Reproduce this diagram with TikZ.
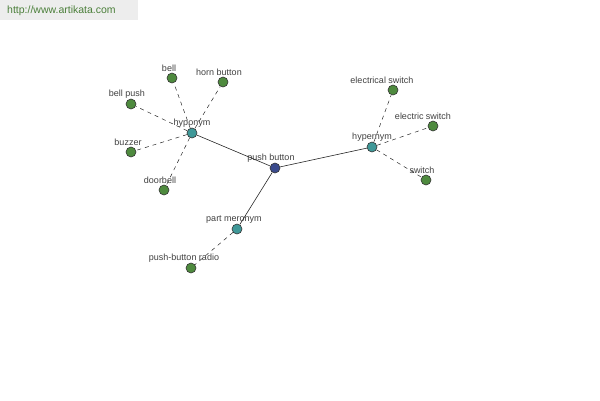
\documentclass[tikz,border=0pt]{standalone}
\usepackage{fontspec}
\setmainfont{Liberation Sans}
\usepackage{xcolor}
\definecolor{leafgreen}{HTML}{4E8A3E}
\definecolor{relteal}{HTML}{3F9898}
\definecolor{rootblue}{HTML}{3A4A8C}
\definecolor{webgreen}{HTML}{4B7F3A}

\begin{document}
\begin{tikzpicture}[x=1pt, y=-1pt,
  nd/.style={circle, draw=black!80, line width=0.6pt, minimum size=10pt,
             inner sep=0pt},
  leaf/.style={nd, fill=leafgreen},
  rel/.style={nd, fill=relteal},
  lbl/.style={font=\fontsize{9}{10}\selectfont, text=black!75, inner sep=0.5pt,
              xshift=-4pt},
  dsh/.style={black!85, dash pattern=on 4pt off 4pt, line width=0.5pt},
  sld/.style={black!85, line width=0.6pt}]
\useasboundingbox (0,0) rectangle (600,400);
\fill[black!7] (0,0) rectangle (138,20);
\node[font=\fontsize{10.5}{12}\selectfont, text=webgreen, anchor=west, inner sep=0pt] (web) at (7,11) {http://www.artikata.com};
% centre and relations
\node[nd, fill=rootblue, label={[lbl]above:push button}] (pb) at (275,168) {};
\node[rel, label={[lbl, xshift=4pt]above:hyponym}] (hypo) at (192,133) {};
\node[rel, label={[lbl, xshift=4pt]above:hypernym}] (hyper) at (372,147) {};
\node[rel, label={[lbl, xshift=1pt]above:part meronym}] (mero) at (237,229) {};
% leaves
\node[leaf, label={[lbl, xshift=1pt]above:bell}] (bell) at (172,78) {};
\node[leaf, label={[lbl]above:horn button}] (horn) at (223,82) {};
\node[leaf, label={[lbl]above:bell push}] (bellpush) at (131,104) {};
\node[leaf, label={[lbl, xshift=1pt]above:buzzer}] (buzzer) at (131,152) {};
\node[leaf, label={[lbl]above:doorbell}] (doorbell) at (164,190) {};
\node[leaf, label={[lbl, xshift=-7pt]above:electrical switch}] (elsw) at (393,90) {};
\node[leaf, label={[lbl, xshift=-6pt]above:electric switch}] (ecsw) at (433,126) {};
\node[leaf, label={[lbl]above:switch}] (sw) at (426,180) {};
\node[leaf, label={[lbl, xshift=-3pt]above:push-button radio}] (radio) at (191,268) {};
\draw[sld] (pb)--(hypo);
\draw[sld] (pb)--(hyper);
\draw[sld] (pb)--(mero);
\foreach \t in {bell, horn, bellpush, buzzer, doorbell}
  \draw[dsh] (hypo)--(\t);
\foreach \t in {elsw, ecsw, sw}
  \draw[dsh] (hyper)--(\t);
\draw[dsh] (mero)--(radio);
\end{tikzpicture}
\end{document}
